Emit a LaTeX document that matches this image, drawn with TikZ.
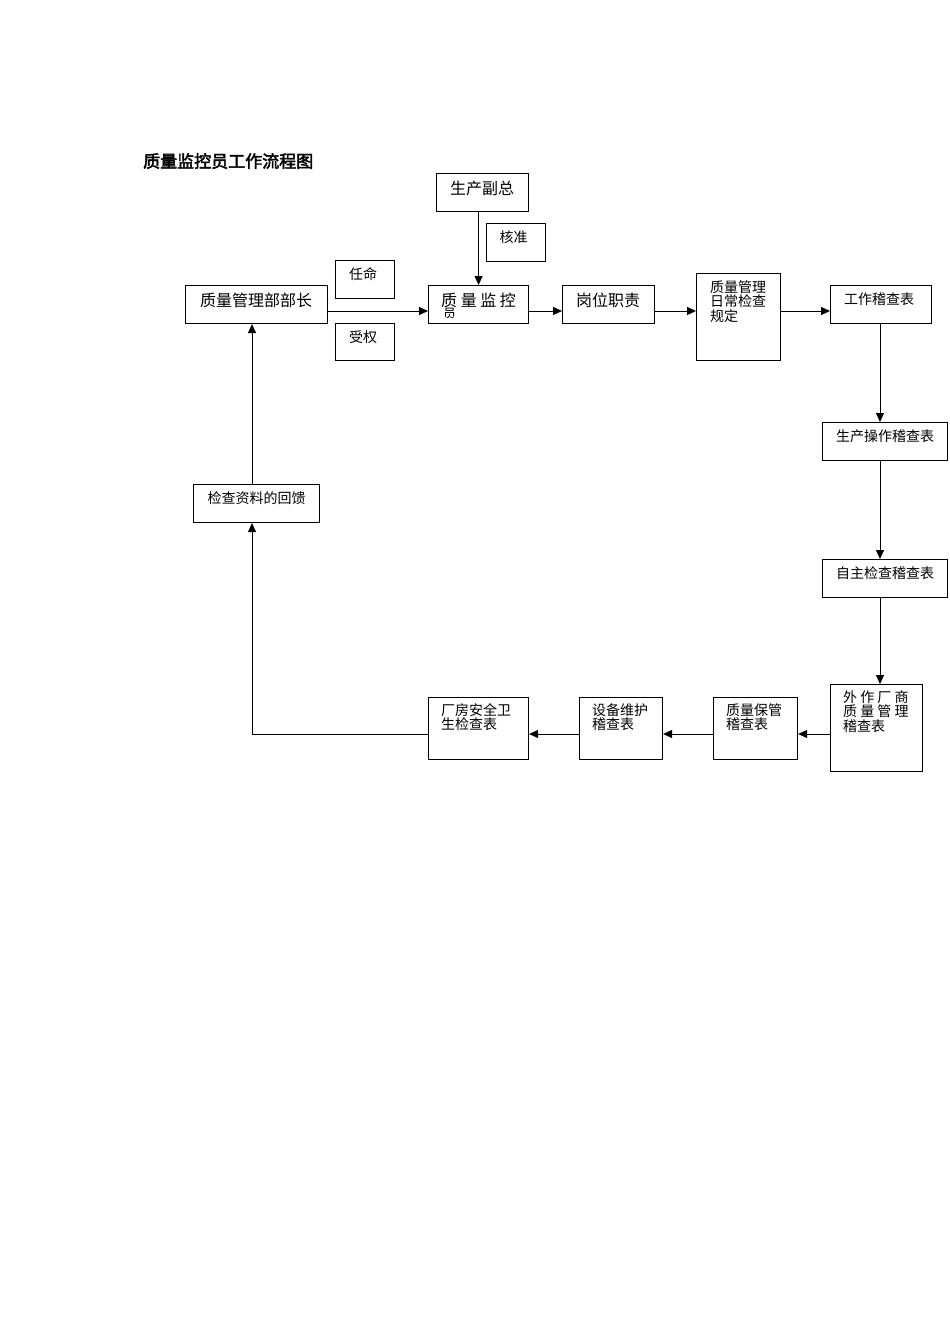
\documentclass[tikz,border=0pt]{standalone}
\usepackage{fontspec}
\setmainfont{Liberation Serif}
\newfontfamily\cjk{Noto Sans CJK SC}
\newfontfamily\cjkb[FakeBold=2.5]{Noto Sans CJK SC}
\usetikzlibrary{arrows.meta}
\begin{document}
\begin{tikzpicture}[x=1pt,y=-1pt,
  box/.style={draw,line width=1.1pt,anchor=north west,inner sep=0pt},
  big/.style={font=\cjk\fontsize{16}{18}\selectfont,inner sep=0pt},
  sml/.style={font=\cjk\fontsize{14}{16}\selectfont,inner sep=0pt},
  arr/.style={line width=1pt,-{Triangle[length=9pt,width=8pt]}}]
\useasboundingbox[fill=white] (0,0) rectangle (950,1344);
% title
\node[font=\cjkb\fontsize{17}{19}\selectfont,inner sep=0pt,anchor=base west] (title) at (143,167.5) {质量监控员工作流程图};
% boxes
\node[box,minimum width=92,minimum height=38] (fz) at (436,173) {};
\node[box,minimum width=59,minimum height=38] (hz) at (486,223) {};
\node[box,minimum width=59,minimum height=38] (rm) at (335,260) {};
\node[box,minimum width=142,minimum height=38] (bz) at (185,285) {};
\node[box,minimum width=59,minimum height=37] (sq) at (335,323) {};
\node[box,minimum width=100,minimum height=38] (jk) at (428,285) {};
\node[box,minimum width=92,minimum height=38] (gw) at (562,285) {};
\node[box,minimum width=84,minimum height=87] (gd) at (696,273) {};
\node[box,minimum width=101,minimum height=38] (gz) at (830,285) {};
\node[box,minimum width=125,minimum height=38] (sc) at (822,422) {};
\node[box,minimum width=125,minimum height=38] (zz) at (822,559) {};
\node[box,minimum width=92,minimum height=87] (wz) at (830,684) {};
\node[box,minimum width=84,minimum height=62] (zb) at (713,697) {};
\node[box,minimum width=83,minimum height=62] (sb) at (579,697) {};
\node[box,minimum width=100,minimum height=62] (cf) at (428,697) {};
\node[box,minimum width=126,minimum height=38] (jc) at (193,484) {};
% texts
\node[big,anchor=base] (t-fz) at (482,194) {生产副总};
\node[sml,anchor=base] (t-hz) at (513.5,242.3) {核准};
\node[sml,anchor=base] (t-rm) at (363,279.3) {任命};
\node[sml,anchor=base] (t-sq) at (363,342.3) {受权};
\node[big,anchor=base] (t-bz) at (256,306) {质量管理部部长};
\node[big,anchor=base west] (t-jk) at (441,306) {质 量 监 控};
\begin{scope}
\clip (429,286) rectangle (527,317.5);
\node[font=\cjk\fontsize{13}{15}\selectfont,inner sep=0pt,anchor=base west] (t-jk2) at (443,318.5) {员};
\end{scope}
\node[big,anchor=base] (t-gw) at (608,306) {岗位职责};
\node[sml,anchor=base west] (t-gd1) at (710,292.3) {质量管理};
\node[sml,anchor=base west] (t-gd2) at (710,306.8) {日常检查};
\node[sml,anchor=base west] (t-gd3) at (710,321.3) {规定};
\node[sml,anchor=base] (t-gz) at (879,304.3) {工作稽查表};
\node[sml,anchor=base] (t-sc) at (885,441.3) {生产操作稽查表};
\node[sml,anchor=base] (t-zz) at (885,578.3) {自主检查稽查表};
\node[sml,anchor=base] (t-jc) at (256.5,503.3) {检查资料的回馈};
\node[sml,anchor=base west] (t-wz1) at (843,702.3) {外 作 厂 商};
\node[sml,anchor=base west] (t-wz2) at (843,716.8) {质 量 管 理};
\node[sml,anchor=base west] (t-wz3) at (843,731.3) {稽查表};
\node[sml,anchor=base west] (t-zb1) at (726,715.3) {质量保管};
\node[sml,anchor=base west] (t-zb2) at (726,729.8) {稽查表};
\node[sml,anchor=base west] (t-sb1) at (592,715.3) {设备维护};
\node[sml,anchor=base west] (t-sb2) at (592,729.8) {稽查表};
\node[sml,anchor=base west] (t-cf1) at (441,715.3) {厂房安全卫};
\node[sml,anchor=base west] (t-cf2) at (441,729.8) {生检查表};
% guide coordinates
\coordinate (r1) at (0,311);
\coordinate (r2) at (0,734);
\coordinate (c1) at (880,0);
\coordinate (c2) at (252,0);
% connectors
\draw[arr] (jk.north |- fz.south) -- (jk.north);
\draw[arr] (bz.east |- r1) -- (jk.west |- r1);
\draw[arr] (jk.east |- r1) -- (gw.west |- r1);
\draw[arr] (gw.east |- r1) -- (gd.west |- r1);
\draw[arr] (gd.east |- r1) -- (gz.west |- r1);
\draw[arr] (gz.south -| c1) -- (sc.north -| c1);
\draw[arr] (sc.south -| c1) -- (zz.north -| c1);
\draw[arr] (zz.south -| c1) -- (wz.north -| c1);
\draw[arr] (wz.west |- r2) -- (zb.east |- r2);
\draw[arr] (zb.west |- r2) -- (sb.east |- r2);
\draw[arr] (sb.west |- r2) -- (cf.east |- r2);
\draw[arr] (cf.west |- r2) -| (jc.south -| c2);
\draw[arr] (jc.north -| c2) -- (bz.south -| c2);
\end{tikzpicture}
\end{document}
